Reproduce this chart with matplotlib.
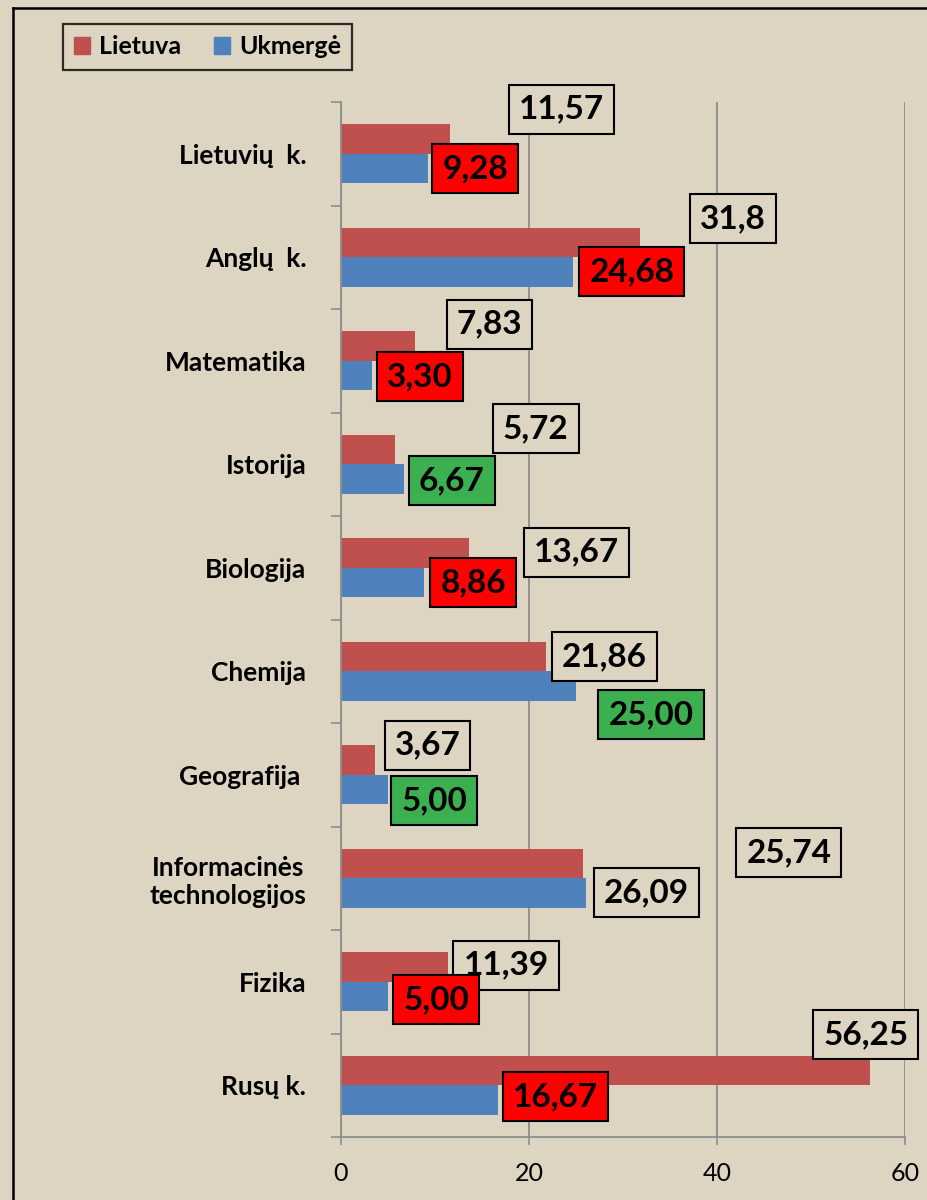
import matplotlib
matplotlib.use("Agg")
import matplotlib.pyplot as plt
from matplotlib.patches import Patch
from matplotlib.lines import Line2D

plt.rcParams['font.family'] = ['Lato', 'DejaVu Sans']

# duomenys
dalykai = ["Lietuvių  k.", "Anglų  k.", "Matematika", "Istorija", "Biologija",
           "Chemija", "Geografija ", "Informacinės\ntechnologijos", "Fizika", "Rusų k."]
lietuva = [11.57, 31.8, 7.83, 5.72, 13.67, 21.86, 3.67, 25.74, 11.39, 56.25]
ukmerge = [9.28, 24.68, 3.30, 6.67, 8.86, 25.00, 5.00, 26.09, 5.00, 16.67]
# langelio spalva prie Ukmergės reikšmės
ukm_spalva = ["red", "red", "red", "green", "red", "green", "green", "none", "red", "red"]

# etikečių poslinkiai (pikseliais) nuo stulpelio galo
lt_off = [(112, 30), (93, 24), (75, 22), (141, 21), (107, 1),
          (58, 0), (52, 15), (206, 11), (58, 2), (-4, 36)]
uk_off = [(47, 0), (59, 0), (48, -1), (48, -2), (49, 0),
          (75, -29), (46, -11), (60, 0), (48, -3), (58, 3)]

fonas = "#DDD4C2"
raudona = "#C0504D"
melyna = "#4F81BD"
pilka = "#8C8C8C"
spalvos = {"red": "#FF0000", "green": "#3CAF50", "none": fonas}

fig = plt.figure(figsize=(9.28, 12), dpi=100, facecolor=fonas)
ax = fig.add_axes([341/928, 1 - 1137/1200, 564/928, 1035/1200])
ax.set_facecolor("none")

h = 0.285
y = list(range(len(dalykai)))
ax.barh([i - h/2 for i in y], lietuva, height=h, color=raudona, zorder=2)
ax.barh([i + h/2 for i in y], ukmerge, height=h, color=melyna, zorder=2)

ax.set_xlim(0, 60)
ax.set_ylim(9.5, -0.5)
ax.set_xticks([0, 20, 40, 60])
ax.set_xticklabels(["0", "20", "40", "60"], fontsize=18)
ax.tick_params(axis="x", length=6, width=1.2, color=pilka, pad=12)
ax.grid(axis="x", color=pilka, lw=1.3, zorder=0)

ax.set_yticks([i - 0.5 for i in range(len(dalykai) + 1)])
ax.set_yticklabels([])
ax.tick_params(axis="y", which="major", length=7, width=1.2, color=pilka)
ax.set_yticks(y, minor=True)
ax.set_yticklabels(dalykai, minor=True, fontsize=19, fontweight="bold",
                   multialignment="center")
ax.tick_params(axis="y", which="minor", length=0, pad=25)

for s in ["top", "right"]:
    ax.spines[s].set_visible(False)
for s in ["left", "bottom"]:
    ax.spines[s].set_color(pilka)
    ax.spines[s].set_linewidth(1.3)

for i in y:
    ax.annotate(str(lietuva[i]).replace(".", ","), xy=(lietuva[i], i - h/2),
                xytext=lt_off[i], textcoords="offset pixels",
                ha="center", va="center", fontsize=24, fontweight="bold",
                bbox=dict(boxstyle="square,pad=0.3", fc=fonas, ec="black", lw=1.5),
                zorder=5, annotation_clip=False)
    ax.annotate(f"{ukmerge[i]:.2f}".replace(".", ","), xy=(ukmerge[i], i + h/2),
                xytext=uk_off[i], textcoords="offset pixels",
                ha="center", va="center", fontsize=24, fontweight="bold",
                bbox=dict(boxstyle="square,pad=0.3", fc=spalvos[ukm_spalva[i]],
                          ec="black", lw=1.5),
                zorder=5, annotation_clip=False)

# legenda
rankenos = [Patch(color=raudona, label="Lietuva"), Patch(color=melyna, label="Ukmergė")]
leg = fig.legend(handles=rankenos, loc="upper left", bbox_to_anchor=(63/928, 1 - 24/1200),
                 ncol=2, frameon=True, fancybox=False, borderaxespad=0,
                 handlelength=0.65, handleheight=0.65, handletextpad=0.35,
                 columnspacing=1.3, borderpad=0.45,
                 prop={"weight": "bold", "size": 18})
leg.get_frame().set_edgecolor("black")
leg.get_frame().set_linewidth(1.6)
leg.get_frame().set_facecolor(fonas)

# rėmelis
fig.add_artist(Line2D([13/928, 13/928], [0, 1 - 8/1200], color="black", lw=1.8))
fig.add_artist(Line2D([13/928, 1], [1 - 8/1200, 1 - 8/1200], color="black", lw=1.8))

fig.savefig("out.png", dpi=100, facecolor=fonas)
